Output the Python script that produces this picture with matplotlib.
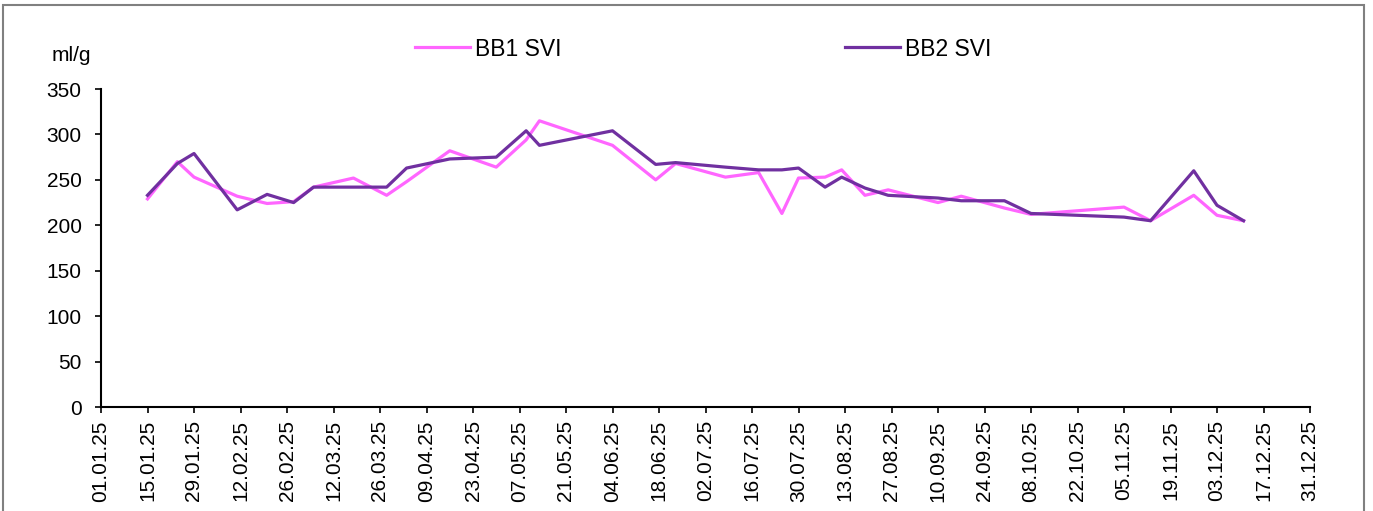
import matplotlib.pyplot as plt
import matplotlib.dates as mdates
import pandas as pd
from matplotlib.patches import Rectangle

plt.rcParams['font.family'] = ['Liberation Sans', 'DejaVu Sans']

# data
dates = ['15.01.25', '24.01.25', '29.01.25', '11.02.25', '20.02.25', '28.02.25',
         '06.03.25', '18.03.25', '28.03.25', '03.04.25', '16.04.25', '30.04.25',
         '09.05.25', '13.05.25', '04.06.25', '17.06.25', '23.06.25', '08.07.25',
         '18.07.25', '25.07.25', '30.07.25', '07.08.25', '12.08.25', '19.08.25',
         '26.08.25', '10.09.25', '17.09.25', '30.09.25', '08.10.25', '05.11.25',
         '13.11.25', '26.11.25', '03.12.25', '11.12.25']
bb1_svi = [229, 270, 253, 232, 224, 226, 242, 252, 233, 248, 282, 264,
           294, 315, 288, 250, 268, 253, 258, 213, 252, 253, 261, 233,
           239, 225, 232, 219, 212, 220, 205, 233, 211, 205]
bb2_svi = [233, 268, 279, 217, 234, 225, 242, 242, 242, 263, 273, 275,
           304, 288, 304, 267, 269, 264, 261, 261, 263, 242, 253, 241,
           233, 230, 227, 227, 213, 209, 205, 260, 222, 205]

x = pd.to_datetime(dates, format='%d.%m.%y')
tick_dates = pd.date_range('2025-01-01', '2025-12-31', freq='14D')

W, H = 1373, 511
fig = plt.figure(figsize=(W / 100, H / 100), dpi=100)
ax = fig.add_axes([101 / W, 1 - 407 / H, (1310 - 101) / W, (407 - 89) / H])

# chart area frame (bottom edge is cut off in the original)
fig.patches.append(Rectangle((3 / W, -0.1), (1364 - 3) / W, 1.1 - 5 / H,
                             transform=fig.transFigure, fill=False,
                             edgecolor='#808080', linewidth=1.5))

ax.plot(x, bb1_svi, color='#FF66FF', linewidth=2.3, label='BB1 SVI')
ax.plot(x, bb2_svi, color='#7030A0', linewidth=2.3, label='BB2 SVI')

ax.set_xlim(tick_dates[0], tick_dates[-1])
ax.set_ylim(0, 350)
ax.set_yticks(range(0, 351, 50))
ax.set_xticks(tick_dates)
ax.xaxis.set_major_formatter(mdates.DateFormatter('%d.%m.%y'))
ax.tick_params(axis='x', rotation=90, labelsize=15, length=4.5, width=1.2, pad=5)
ax.tick_params(axis='y', labelsize=15, length=4, width=1.2, pad=10)

for side in ['top', 'right']:
    ax.spines[side].set_visible(False)
for side in ['left', 'bottom']:
    ax.spines[side].set_linewidth(1.5)

fig.text(52 / W, 1 - 55 / H, 'ml/g', fontsize=15, va='center')

ax.legend(loc='center', bbox_to_anchor=(0.498, (407 - 49) / 318),
          ncol=2, frameon=False, fontsize=16.5, columnspacing=12.4,
          handlelength=2.4, handletextpad=0.22)

fig.savefig('out.png', dpi=100)
